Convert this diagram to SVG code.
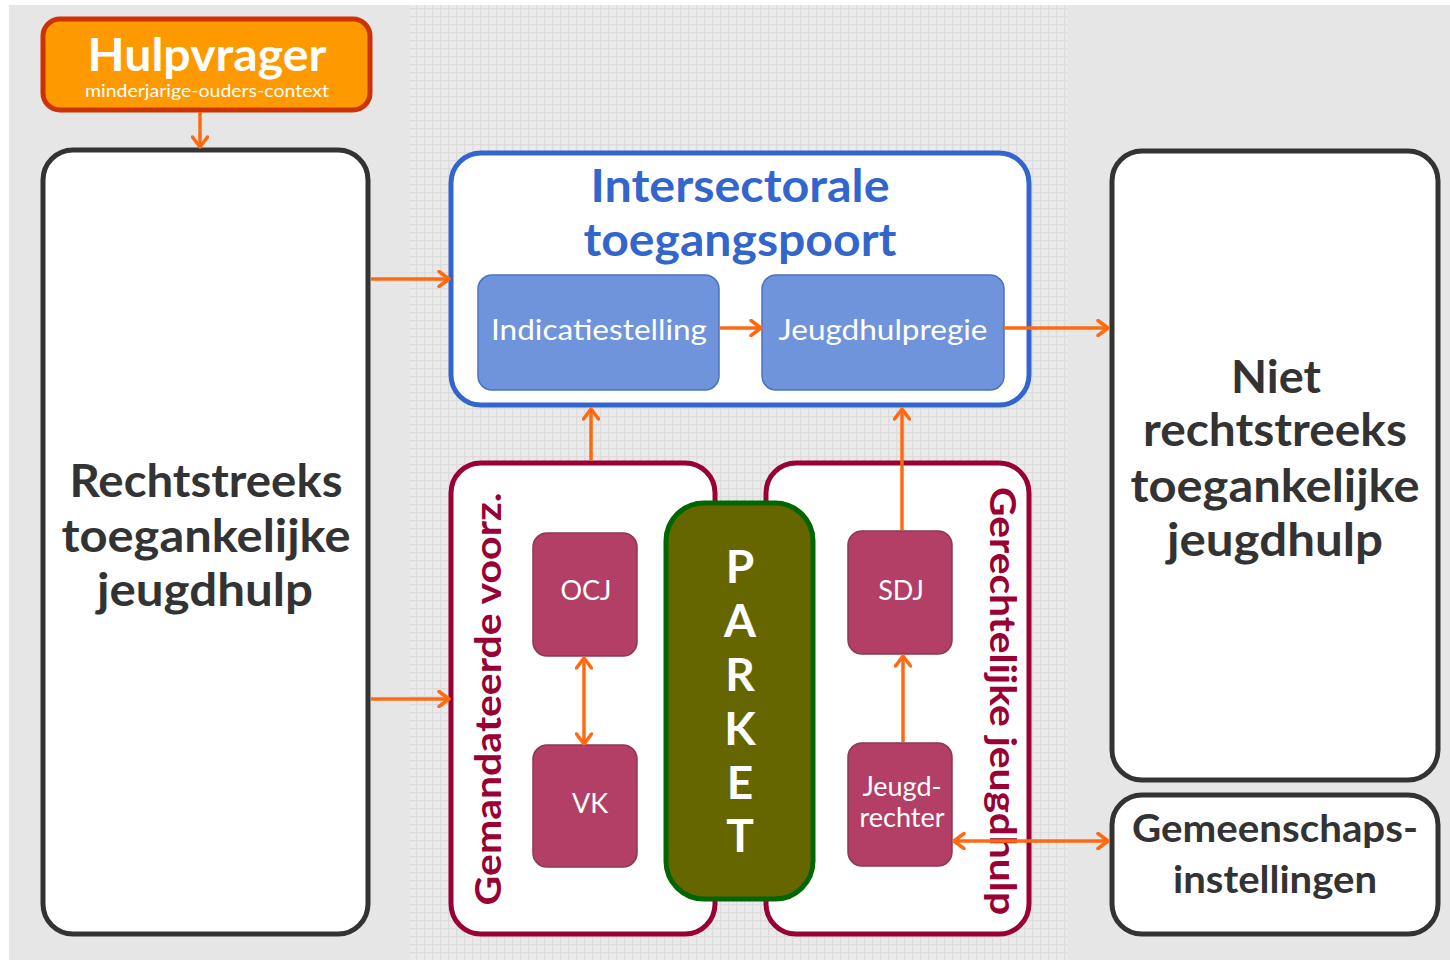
<svg xmlns="http://www.w3.org/2000/svg" width="1450" height="960" viewBox="0 0 1450 960">
<style>
  text { font-family: Lato, "Open Sans", "Liberation Sans", sans-serif; }
  .big { font-weight: bold; font-size: 46px; fill: #333333; text-anchor: middle; }
  .bigbox { fill: #ffffff; stroke: #333333; stroke-width: 5; }
  .blue-in { fill: #7094db; stroke: #4a72c0; stroke-width: 1.5; }
  .blue-t { font-size: 28px; fill: #ffffff; text-anchor: middle; }
  .mar { fill: #ffffff; stroke: #990033; stroke-width: 5; }
  .mar-in { fill: #b33f66; stroke: #8c3a4f; stroke-width: 1.5; }
  .mar-t { font-size: 27px; fill: #ffffff; text-anchor: middle; }
  .vert { font-weight: bold; font-size: 36px; fill: #990033; text-anchor: middle; }
  .park { font-weight: bold; font-size: 46px; fill: #ffffff; text-anchor: middle; }
  .conn { stroke: #ff6a10; stroke-width: 3.5; fill: none; }
</style>
<defs>
  <pattern id="grid" width="8" height="8" patternUnits="userSpaceOnUse">
    <rect width="8" height="8" fill="#eaeaea"/>
    <path d="M0,0.5H8M0.5,0V8" stroke="#dcdcdc" stroke-width="1.5"/>
  </pattern>
  <marker id="ah" viewBox="0 0 18 18" refX="15" refY="9" markerWidth="18" markerHeight="18" markerUnits="userSpaceOnUse" orient="auto-start-reverse">
    <path d="M5,1.5 L15,9 L5,16.5" fill="none" stroke="#ff6a10" stroke-width="3.5" stroke-linecap="round" stroke-linejoin="round"/>
  </marker>
</defs>

<rect x="0" y="0" width="1450" height="960" fill="#ffffff"/>
<rect x="9" y="5" width="1441" height="955" fill="#e6e6e6"/>
<rect x="410" y="5" width="658" height="955" fill="url(#grid)"/>

<g id="hulpvrager">
  <rect x="43" y="19" width="327" height="91" rx="17" fill="#ff9900" stroke="#cc3300" stroke-width="5"/>
  <text x="207" y="71" font-weight="bold" font-size="46" fill="#ffffff" text-anchor="middle" textLength="239" lengthAdjust="spacingAndGlyphs">Hulpvrager</text>
  <text x="207" y="97" font-size="18" fill="#ffffff" text-anchor="middle" textLength="244" lengthAdjust="spacingAndGlyphs">minderjarige-ouders-context</text>
</g>

<g id="rechtstreeks">
  <rect class="bigbox" x="43" y="150" width="325" height="784" rx="30"/>
  <text class="big" x="206" y="497" textLength="273" lengthAdjust="spacingAndGlyphs">Rechtstreeks</text>
  <text class="big" x="206" y="552" textLength="289" lengthAdjust="spacingAndGlyphs">toegankelijke</text>
  <text class="big" x="205" y="606" textLength="216" lengthAdjust="spacingAndGlyphs">jeugdhulp</text>
</g>

<g id="intersectorale">
  <rect x="451" y="153" width="578" height="252" rx="30" fill="#ffffff" stroke="#3366cc" stroke-width="5"/>
  <text x="740" y="202" font-weight="bold" font-size="46" fill="#3366cc" text-anchor="middle" textLength="299" lengthAdjust="spacingAndGlyphs">Intersectorale</text>
  <text x="740" y="256" font-weight="bold" font-size="46" fill="#3366cc" text-anchor="middle" textLength="313" lengthAdjust="spacingAndGlyphs">toegangspoort</text>
</g>

<g id="indicatiestelling">
  <rect class="blue-in" x="478" y="275" width="241" height="115" rx="14"/>
  <text class="blue-t" x="599" y="340" textLength="216" lengthAdjust="spacingAndGlyphs">Indicatiestelling</text>
</g>

<g id="jeugdhulpregie">
  <rect class="blue-in" x="762" y="275" width="242" height="115" rx="14"/>
  <text class="blue-t" x="883" y="340" textLength="209" lengthAdjust="spacingAndGlyphs">Jeugdhulpregie</text>
</g>

<g id="niet-rechtstreeks">
  <rect class="bigbox" x="1112" y="151" width="326" height="629" rx="30"/>
  <text class="big" x="1276" y="393" textLength="90" lengthAdjust="spacingAndGlyphs">Niet</text>
  <text class="big" x="1275" y="446" textLength="264" lengthAdjust="spacingAndGlyphs">rechtstreeks</text>
  <text class="big" x="1275" y="502" textLength="289" lengthAdjust="spacingAndGlyphs">toegankelijke</text>
  <text class="big" x="1275" y="556" textLength="216" lengthAdjust="spacingAndGlyphs">jeugdhulp</text>
</g>

<g id="gemeenschapsinstellingen">
  <rect class="bigbox" x="1112" y="795" width="326" height="139" rx="30"/>
  <text x="1275" y="842" font-weight="bold" font-size="38" fill="#333333" text-anchor="middle" textLength="286" lengthAdjust="spacingAndGlyphs">Gemeenschaps-</text>
  <text x="1275" y="893" font-weight="bold" font-size="38" fill="#333333" text-anchor="middle" textLength="204" lengthAdjust="spacingAndGlyphs">instellingen</text>
</g>

<g id="gemandateerde">
  <rect class="mar" x="451" y="463" width="264" height="471" rx="30"/>
  <text class="vert" transform="translate(501,699) rotate(-90)" textLength="413" lengthAdjust="spacingAndGlyphs">Gemandateerde voorz.</text>
</g>

<g id="gerechtelijke">
  <rect class="mar" x="766" y="463" width="263" height="471" rx="30"/>
  <text class="vert" transform="translate(990,701) rotate(90)" textLength="428" lengthAdjust="spacingAndGlyphs">Gerechtelijke jeugdhulp</text>
</g>

<g id="ocj">
  <rect class="mar-in" x="533" y="533" width="104" height="123" rx="14"/>
  <text class="mar-t" x="586" y="600">OCJ</text>
</g>
<g id="vk">
  <rect class="mar-in" x="533" y="745" width="104" height="122" rx="14"/>
  <text class="mar-t" x="590" y="813">VK</text>
</g>
<g id="sdj">
  <rect class="mar-in" x="848" y="531" width="104" height="123" rx="14"/>
  <text class="mar-t" x="901" y="600">SDJ</text>
</g>
<g id="jeugdrechter">
  <rect class="mar-in" x="848" y="743" width="104" height="123" rx="14"/>
  <text class="mar-t" x="902" y="796">Jeugd-</text>
  <text class="mar-t" x="902" y="827">rechter</text>
</g>

<g id="parket">
  <rect x="666" y="503" width="147" height="396" rx="38" fill="#666600" stroke="#006600" stroke-width="5"/>
  <text class="park" x="740" y="583">P</text>
  <text class="park" x="740" y="637">A</text>
  <text class="park" x="740" y="691">R</text>
  <text class="park" x="740" y="745">K</text>
  <text class="park" x="740" y="799">E</text>
  <text class="park" x="740" y="852">T</text>
</g>

<g id="connectors">
  <line class="conn" x1="200" y1="112" x2="200" y2="147" marker-end="url(#ah)"/>
  <line class="conn" x1="371" y1="279" x2="449" y2="279" marker-end="url(#ah)"/>
  <line class="conn" x1="371" y1="699" x2="449" y2="699" marker-end="url(#ah)"/>
  <line class="conn" x1="719" y1="328" x2="761" y2="328" marker-end="url(#ah)"/>
  <line class="conn" x1="1004" y1="328" x2="1108" y2="328" stroke-width="4.5" marker-end="url(#ah)"/>
  <line class="conn" x1="591" y1="461" x2="591" y2="409" marker-end="url(#ah)"/>
  <line class="conn" x1="902" y1="530" x2="902" y2="409" marker-end="url(#ah)"/>
  <line class="conn" x1="584" y1="658" x2="584" y2="744" marker-start="url(#ah)" marker-end="url(#ah)"/>
  <line class="conn" x1="903" y1="742" x2="903" y2="656" marker-end="url(#ah)"/>
  <line class="conn" x1="954" y1="841" x2="1108" y2="841" marker-start="url(#ah)" marker-end="url(#ah)"/>
</g>
</svg>
